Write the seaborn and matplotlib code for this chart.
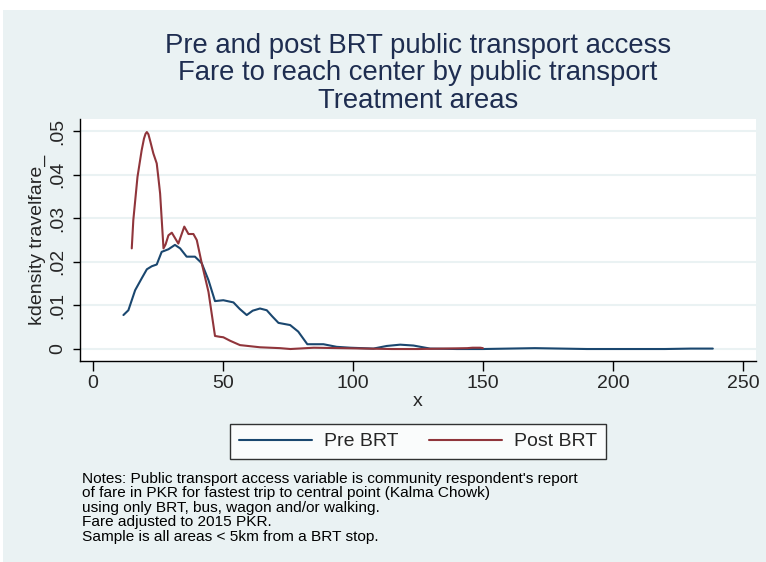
import numpy as np
import pandas as pd
import matplotlib
matplotlib.use("Agg")
import matplotlib.pyplot as plt
from matplotlib.patches import Rectangle
import seaborn as sns

# kernel density values
pre_x = [11.8, 13.7, 16.3, 18.8, 20.8, 22.7, 24.6, 26.5, 29.1, 31.6, 33.6, 36.1, 39.3,
         41.9, 44.5, 47.0, 50.2, 54.1, 56.5, 59.2, 61.5, 64.3, 66.9, 69.0, 71.4, 75.9,
         79.0, 82.5, 88.7, 93.8, 99.0, 107.9, 113.0, 118.2, 123.3, 129.7, 140, 150,
         160, 170, 180, 190, 200, 210, 220, 230, 238.4]
pre_y = [0.0078, 0.0089, 0.0135, 0.0162, 0.0183, 0.0190, 0.0194, 0.0223, 0.0229, 0.0239,
         0.0231, 0.0212, 0.0212, 0.0197, 0.0158, 0.0110, 0.0112, 0.0107, 0.0092, 0.0078,
         0.0088, 0.0093, 0.0089, 0.0075, 0.0060, 0.0055, 0.0040, 0.0011, 0.0011, 0.0005,
         0.0003, 0.0001, 0.0007, 0.0010, 0.0008, 0.0001, 0.0000, 0.0000, 0.0001, 0.0002,
         0.0001, 0.0000, 0.0000, 0.0000, 0.0000, 0.0001, 0.0001]

post_x = [15.0, 15.6, 17.2, 18.8, 19.7, 20.3, 20.8, 21.4, 22.2, 23.3, 24.6, 25.2, 25.9,
          27.2, 28.0, 29.1, 30.4, 32.9, 35.2, 36.8, 38.7, 40.0, 41.9, 44.5, 47.0, 48.9,
          50.2, 52.8, 56.6, 64.3, 72.0, 76, 85, 95, 105, 115, 125, 135, 144, 146, 149, 150]
post_y = [0.0231, 0.0296, 0.0395, 0.0456, 0.0483, 0.0494, 0.0498, 0.0493, 0.0475, 0.0449,
          0.0426, 0.0395, 0.0357, 0.0231, 0.0240, 0.0261, 0.0267, 0.0242, 0.0281, 0.0264,
          0.0264, 0.0250, 0.0197, 0.0131, 0.0030, 0.0028, 0.0027, 0.0019, 0.0009, 0.0004,
          0.0002, 0.0000, 0.0003, 0.0002, 0.0001, 0.0000, 0.0000, 0.0001, 0.0002, 0.0003,
          0.0003, 0.0002]

series_names = ["Pre BRT", "Post BRT"]
x_ticks = [0, 50, 100, 150, 200, 250]
y_ticks = [0, 0.01, 0.02, 0.03, 0.04, 0.05]
y_tick_labels = ["0", ".01", ".02", ".03", ".04", ".05"]

title_lines = ["Pre and post BRT public transport access",
               "Fare to reach center by public transport",
               "Treatment areas"]
note_lines = ["Notes: Public transport access variable is community respondent's report",
              "of fare in PKR for fastest trip to central point (Kalma Chowk)",
              "using only BRT, bus, wagon and/or walking.",
              "Fare adjusted to 2015 PKR.",
              "Sample is all areas < 5km from a BRT stop."]

sns.set_theme(style="white")
plt.rcParams["font.family"] = ["Liberation Sans", "DejaVu Sans"]

bg = "#EAF2F3"
navy = "#1a476f"
maroon = "#90353b"

fig = plt.figure(figsize=(7.66, 5.62), dpi=100)
fig.patch.set_facecolor("white")
fig.add_artist(Rectangle((3 / 766, 0), 1, 1 - 10 / 562, transform=fig.transFigure,
                         facecolor=bg, edgecolor="none", zorder=-10))

ax = fig.add_axes([80 / 766, 1 - 361 / 562, 676 / 766, 242 / 562])
ax.set_facecolor("white")

pre = pd.DataFrame({"x": pre_x, "y": pre_y})
post = pd.DataFrame({"x": post_x, "y": post_y})
sns.lineplot(data=pre, x="x", y="y", ax=ax, color=navy, lw=1.5, sort=False,
             label=series_names[0])
sns.lineplot(data=post, x="x", y="y", ax=ax, color=maroon, lw=1.5, sort=False,
             label=series_names[1])

ax.set_xlim(-4.9, 255)
ax.set_ylim(-0.00275, 0.0528)
ax.set_xticks(x_ticks)
ax.set_yticks(y_ticks)
ax.set_yticklabels(y_tick_labels, rotation=90, va="center")
ax.yaxis.grid(True, color=bg, lw=1.5)
ax.xaxis.grid(False)
ax.set_axisbelow(True)

for side in ["top", "right"]:
    ax.spines[side].set_visible(False)
for side in ["left", "bottom"]:
    ax.spines[side].set_color("black")
    ax.spines[side].set_linewidth(1.0)

ax.tick_params(axis="x", direction="out", length=7, width=1, color="black",
               labelsize=14, pad=3, bottom=True)
ax.tick_params(axis="y", direction="out", length=5, width=1, color="black",
               labelsize=14, pad=5, left=True)
ax.set_xlabel("x", fontsize=14, labelpad=1)
ax.set_ylabel("kdensity travelfare_", fontsize=14, labelpad=2)

leg = ax.legend(loc="center", bbox_to_anchor=(418 / 766, 1 - 441.5 / 562),
                bbox_transform=fig.transFigure, ncol=2, frameon=True, fancybox=False,
                edgecolor="black", fontsize=14, handlelength=3.75, handletextpad=0.6,
                columnspacing=1.6, borderpad=0.45)
leg.get_frame().set_linewidth(1.0)
leg.get_frame().set_facecolor("white")

for i, line in enumerate(title_lines):
    fig.text(418 / 766, 1 - (46 + 27.5 * i) / 562, line, ha="center", va="center",
             fontsize=19.8, color="#1e2d50")

for i, line in enumerate(note_lines):
    fig.text(82 / 766, 1 - (478.5 + 14.6 * i) / 562, line, ha="left", va="center",
             fontsize=11.1, color="black")

fig.savefig("out.png", dpi=100, facecolor=fig.get_facecolor())
